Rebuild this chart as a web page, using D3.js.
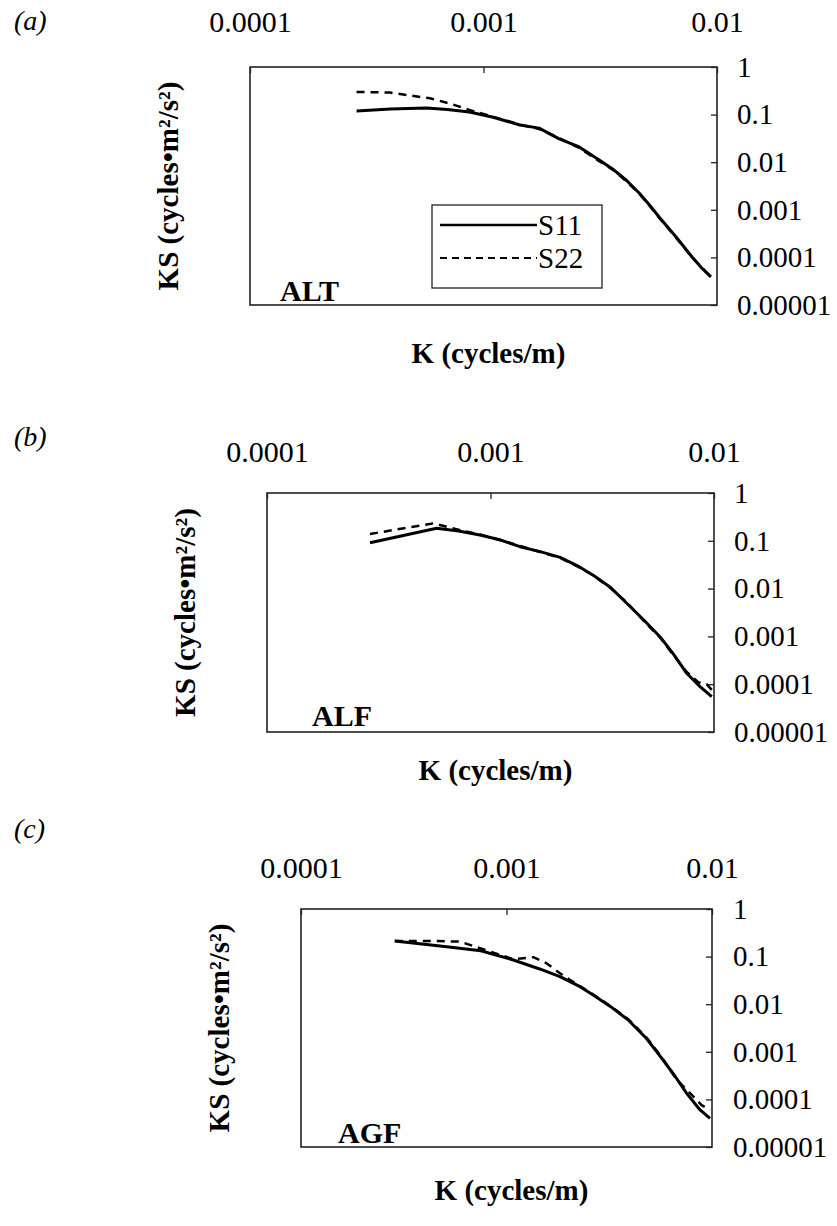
<!DOCTYPE html>
<html>
<head>
<meta charset="utf-8">
<script src="https://cdn.jsdelivr.net/npm/d3@7"></script>
<style>
  html, body { margin: 0; padding: 0; background: #fff; }
  svg { display: block; }
  text { font-family: "Liberation Serif", "Times New Roman", serif; fill: #000; }
</style>
</head>
<body>
<svg id="chart" width="837" height="1226"></svg>
<script>
// Wavenumber axis ticks (top) and spectral density ticks (right)
const kTicks = [1e-4, 1e-3, 1e-2];
const kTickLabels = ["0.0001", "0.001", "0.01"];
const ksTicks = [1, 0.1, 0.01, 0.001, 0.0001, 0.00001];
const ksTickLabels = ["1", "0.1", "0.01", "0.001", "0.0001", "0.00001"];

const seriesNames = ["S11", "S22"];
const panelNames = ["ALT", "ALF", "AGF"];
const panelTags = ["(a)", "(b)", "(c)"];

// ALT spectra
const altK11 = [2.86e-4, 4.0e-4, 5.7e-4, 7.0e-4, 8.7e-4, 1.1e-3, 1.43e-3, 1.73e-3, 2.11e-3, 2.57e-3, 3.13e-3, 3.6e-3, 4.08e-3, 4.64e-3, 5.15e-3, 5.65e-3, 6.68e-3, 7.82e-3, 8.6e-3, 9.42e-3];
const altS11 = [0.119, 0.131, 0.138, 0.128, 0.113, 0.088, 0.0605, 0.052, 0.031, 0.0209, 0.0111, 0.0070, 0.00423, 0.00225, 0.00125, 7.06e-4, 2.68e-4, 1.02e-4, 6.0e-5, 3.9e-5];
const altK22 = [2.86e-4, 3.98e-4, 5.9e-4, 7.2e-4, 8.7e-4, 1.1e-3, 1.43e-3, 1.73e-3, 2.11e-3, 2.57e-3, 3.13e-3, 3.6e-3, 4.08e-3, 4.64e-3, 5.15e-3, 5.65e-3, 6.68e-3, 7.82e-3, 8.6e-3, 9.42e-3];
const altS22 = [0.30, 0.29, 0.22, 0.17, 0.125, 0.09, 0.062, 0.05, 0.032, 0.02, 0.0105, 0.0068, 0.0040, 0.0022, 0.0012, 6.8e-4, 2.6e-4, 1.0e-4, 6.2e-5, 3.9e-5];

// ALF spectra
const alfK11 = [2.89e-4, 5.74e-4, 7.2e-4, 8.97e-4, 1.1e-3, 1.355e-3, 1.7e-3, 2.05e-3, 2.45e-3, 2.88e-3, 3.45e-3, 4.06e-3, 4.85e-3, 5.73e-3, 6.6e-3, 7.55e-3, 8.66e-3, 9.77e-3];
const alfS11 = [0.0912, 0.183, 0.16, 0.132, 0.105, 0.0753, 0.058, 0.045, 0.03, 0.019, 0.0105, 0.005, 0.0022, 9.86e-4, 4.2e-4, 1.69e-4, 8.9e-5, 5.5e-5];
const alfK22 = [2.89e-4, 5.55e-4, 7.2e-4, 8.97e-4, 1.1e-3, 1.355e-3, 1.7e-3, 2.05e-3, 2.45e-3, 2.88e-3, 3.45e-3, 4.06e-3, 4.85e-3, 5.73e-3, 6.6e-3, 7.55e-3, 8.5e-3, 9.27e-3, 9.77e-3];
const alfS22 = [0.139, 0.232, 0.17, 0.135, 0.104, 0.078, 0.057, 0.044, 0.029, 0.019, 0.0102, 0.0052, 0.0021, 9.5e-4, 4.0e-4, 1.8e-4, 1.1e-4, 1.0e-4, 7.6e-5];

// AGF spectra
const agfK11 = [2.86e-4, 5.12e-4, 7.5e-4, 1.08e-3, 1.45e-3, 1.82e-3, 2.28e-3, 2.64e-3, 3.2e-3, 3.9e-3, 4.8e-3, 5.7e-3, 6.6e-3, 7.53e-3, 8.75e-3, 9.78e-3];
const agfS11 = [0.213, 0.161, 0.133, 0.085, 0.055, 0.038, 0.0233, 0.0156, 0.009, 0.0047, 0.0019, 7.3e-4, 3.1e-4, 1.34e-4, 6e-5, 4e-5];
const agfK22 = [2.86e-4, 4.6e-4, 5.94e-4, 7.43e-4, 1.08e-3, 1.35e-3, 1.57e-3, 1.82e-3, 2.04e-3, 2.64e-3, 3.2e-3, 3.9e-3, 4.8e-3, 5.7e-3, 6.73e-3, 7.82e-3, 8.9e-3, 9.78e-3];
const agfS22 = [0.213, 0.213, 0.206, 0.150, 0.088, 0.097, 0.072, 0.0446, 0.0323, 0.016, 0.0092, 0.0049, 0.002, 7.6e-4, 2.6e-4, 1.35e-4, 7.6e-5, 6e-5];

const xTitle = "K (cycles/m)";
const yTitle = "KS (cycles\u2022m\u00B2/s\u00B2)";

// Frame layout of each panel
const layouts = [
  { x0: 250, x1: 717, y0: 67, y1: 305, tagY: 30, topPad: 35, xTitleY: 363, nameX: 280, nameY: 301, labelGap: 20, legend: true },
  { x0: 267, x1: 714, y0: 493, y1: 732, tagY: 446, topPad: 31, xTitleY: 780, nameX: 312, nameY: 726, labelGap: 20, legend: false },
  { x0: 301, x1: 712, y0: 909, y1: 1147, tagY: 838, topPad: 31, xTitleY: 1200, nameX: 338, nameY: 1143, labelGap: 21, legend: false }
];

const panelData = [
  [{ k: altK11, s: altS11 }, { k: altK22, s: altS22 }],
  [{ k: alfK11, s: alfS11 }, { k: alfK22, s: alfS22 }],
  [{ k: agfK11, s: agfS11 }, { k: agfK22, s: agfS22 }]
];

const svg = d3.select("#chart");
const styles = [
  { width: 3, dash: null },
  { width: 2.5, dash: "8,6" }
];

layouts.forEach((L, i) => {
  const g = svg.append("g");
  const x = d3.scaleLog().domain([1e-4, 1e-2]).range([L.x0, L.x1]);
  const y = d3.scaleLog().domain([1e-5, 1]).range([L.y1, L.y0]);

  // panel tag
  g.append("text").attr("x", 14).attr("y", L.tagY)
    .style("font-style", "italic").style("font-size", "28px")
    .text(panelTags[i]);

  // frame
  g.append("rect")
    .attr("x", L.x0).attr("y", L.y0)
    .attr("width", L.x1 - L.x0).attr("height", L.y1 - L.y0)
    .attr("fill", "none").attr("stroke", "#222").attr("stroke-width", 1.6);

  // top wavenumber axis, ticks pointing inward
  const top = g.append("g").attr("transform", `translate(0,${L.y0})`)
    .call(d3.axisTop(x).tickValues(kTicks)
      .tickFormat((d, j) => kTickLabels[j])
      .tickSizeInner(-6).tickSizeOuter(0).tickPadding(L.topPad));
  top.select(".domain").remove();
  top.selectAll("line").attr("stroke", "#222").attr("stroke-width", 1.3);
  top.selectAll("text").style("font-size", "30px").attr("fill", "#000")
    .style("font-family", "'Liberation Serif', serif");

  // right spectral density axis, ticks pointing inward
  const right = g.append("g").attr("transform", `translate(${L.x1},0)`)
    .call(d3.axisRight(y).tickValues(ksTicks)
      .tickFormat((d, j) => ksTickLabels[j])
      .tickSizeInner(-6).tickSizeOuter(0).tickPadding(L.labelGap));
  right.select(".domain").remove();
  right.selectAll("line").attr("stroke", "#222").attr("stroke-width", 1.3);
  right.selectAll("text").style("font-size", "29px").attr("fill", "#000")
    .style("font-family", "'Liberation Serif', serif");

  // spectra
  const line = d3.line()
    .x(d => x(d[0])).y(d => y(d[1]));
  panelData[i].forEach((ser, j) => {
    const pts = ser.k.map((k, n) => [k, ser.s[n]]);
    g.append("path").datum(pts)
      .attr("d", line)
      .attr("fill", "none").attr("stroke", "#000")
      .attr("stroke-width", styles[j].width)
      .attr("stroke-dasharray", styles[j].dash)
      .attr("stroke-linejoin", "round");
  });

  // station name
  g.append("text").attr("x", L.nameX).attr("y", L.nameY)
    .style("font-weight", "bold").style("font-size", "30px")
    .text(panelNames[i]);

  // axis titles
  g.append("text").attr("x", (L.x0 + L.x1) / 2 + 5).attr("y", L.xTitleY)
    .attr("text-anchor", "middle")
    .style("font-weight", "bold").style("font-size", "29px")
    .text(xTitle);
  g.append("text")
    .attr("transform", `translate(${L.x0 - 72},${(L.y0 + L.y1) / 2}) rotate(-90)`)
    .attr("text-anchor", "middle")
    .style("font-weight", "bold").style("font-size", "29px")
    .text(yTitle);

  // legend
  if (L.legend) {
    const lg = g.append("g").attr("transform", "translate(432,205)");
    lg.append("rect").attr("width", 170).attr("height", 83)
      .attr("fill", "#fff").attr("stroke", "#222").attr("stroke-width", 1.3);
    seriesNames.forEach((name, j) => {
      const yy = 20 + j * 33;
      lg.append("line").attr("x1", 8).attr("x2", 105).attr("y1", yy).attr("y2", yy)
        .attr("stroke", "#000").attr("stroke-width", j === 0 ? 2.4 : 2)
        .attr("stroke-dasharray", j === 0 ? null : "7,5");
      lg.append("text").attr("x", 106).attr("y", yy + 10)
        .style("font-size", "29px").text(name);
    });
  }
});
</script>
</body>
</html>
